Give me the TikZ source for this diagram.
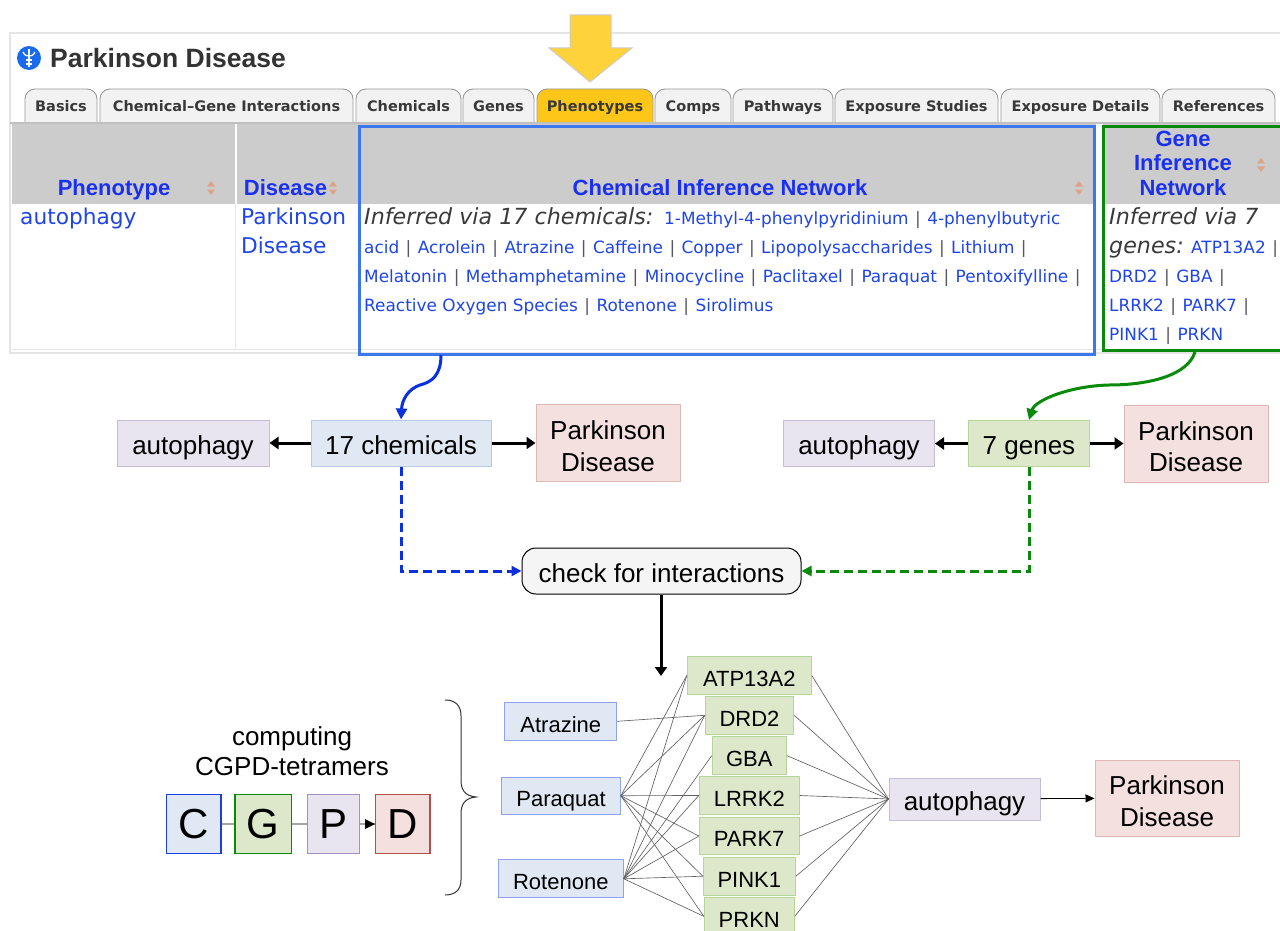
\documentclass[tikz,border=0pt]{standalone}
\usepackage{fontspec}
\setmainfont{Liberation Sans}
\newfontfamily\vd{DejaVu Sans}
\usetikzlibrary{arrows.meta}
\definecolor{lk}{HTML}{1F45E8}
\definecolor{hd}{HTML}{1A30F0}
\definecolor{sepc}{HTML}{555566}
\definecolor{itc}{HTML}{3A3A3A}
\definecolor{fb}{HTML}{DFE8F3}
\definecolor{fg}{HTML}{DDE8CB}
\definecolor{fp}{HTML}{E9E5F0}
\definecolor{fr}{HTML}{F4E0DF}
\definecolor{bb}{HTML}{B8CBE6}
\definecolor{bg}{HTML}{B5D69A}
\definecolor{bp}{HTML}{C5BDD8}
\definecolor{br}{HTML}{DDB8B5}
\definecolor{bbl}{HTML}{8FA2F0}
\definecolor{chemblue}{HTML}{3B78F0}
\definecolor{genegreen}{HTML}{0A8A0A}
\definecolor{curveblue}{HTML}{0A30E0}
\definecolor{sortc}{HTML}{DBA488}
\definecolor{pborder}{HTML}{A390C0}
\definecolor{dborder}{HTML}{B0504A}
\definecolor{cborder}{HTML}{1A3FE0}
\definecolor{yarrow}{HTML}{FDD23A}
\definecolor{ytab}{HTML}{FFC61A}
\newcommand{\sepb}{\kern1.1pt\textcolor{sepc}{|}\kern1.1pt}
\newcommand{\topstr}{\rule{0pt}{25pt}}
\newcommand{\sortmark}[2]{\fill[sortc] (#1-4,#2-1.5) -- (#1+4,#2-1.5) -- (#1,#2-7) -- cycle; \fill[sortc] (#1-4,#2+1.5) -- (#1+4,#2+1.5) -- (#1,#2+7) -- cycle;}
\tikzset{
  box/.style={draw,inner sep=0pt,align=center,line width=1pt,text=black},
  bigb/.style={box,font=\fontsize{26}{31.5}\selectfont,text depth=0pt},
  oneline/.style={text height=22.6pt,text depth=0pt},
  smallb/.style={box,font=\fontsize{22}{26}\selectfont,text height=21.8pt,text depth=0pt},
  lett/.style={box,font=\fontsize{42}{46}\selectfont,minimum height=58.6pt,line width=1.3pt},
  blu/.style={fill=fb,draw=bb},
  grn/.style={fill=fg,draw=bg},
  pur/.style={fill=fp,draw=bp},
  rdd/.style={fill=fr,draw=br},
  linkt/.style={inner sep=0pt,anchor=base west,text=lk,font=\vd\fontsize{16.9}{18}\selectfont},
  bigt/.style={inner sep=0pt,anchor=base west,text=lk,font=\vd\fontsize{21.7}{24}\selectfont},
  itt/.style={inner sep=0pt,anchor=base west,text=itc,font=\vd\itshape\fontsize{22.2}{24}\selectfont},
  hdt/.style={inner sep=0pt,anchor=base,text=hd,font=\bfseries\fontsize{22}{24}\selectfont},
  tabt/.style={inner sep=0pt,anchor=base,text=black!78,font=\vd\bfseries\fontsize{14.5}{16}\selectfont},
  tabs/.style={draw=black!40,line width=0.9pt,fill=black!5},
  thinl/.style={draw=black!62,line width=0.65pt},
  thickarr/.style={draw=black,line width=3pt,-{Triangle[length=9pt,width=12pt]}},
  dash1/.style={line width=3pt,dash pattern=on 9pt off 5pt},
}
\begin{document}
\begin{tikzpicture}[x=1pt,y=-1pt]
\useasboundingbox (0,0) rectangle (1280,931);
\clip (0,0) rectangle (1280,931);
\fill[white] (0,0) rectangle (1280,931);
% page frame
\draw[black!10,line width=1.2pt] (1290,33) -- (10,33) -- (10,353) -- (1290,353);
\draw[black!10,line width=1pt] (12,349) -- (1290,349);
\fill[black!20] (12,124) rectangle (1290,204);
\fill[white] (235,124) rectangle (237,204);
\fill[white] (1096,124) rectangle (1103,204);
\fill[black!8] (235,204) rectangle (236,349);
\draw[black!25,line width=1.4pt] (10,123) -- (1290,123);
% title
\fill[lk!80!cyan] (29,58) circle (12);
\draw[white,line width=1.6pt] (29,49) -- (29,67);
\draw[white,line width=1.3pt] (23,52) .. controls (25,56) and (27,56) .. (29,56) .. controls (31,56) and (33,56) .. (35,52);
\draw[white,line width=1.1pt] (26,60) -- (32,60) (26,64) -- (32,64);
\node[inner sep=0pt,anchor=base west,text=black!80,font=\bfseries\fontsize{26.5}{32}\selectfont] (title) at (50,68) {Parkinson Disease};
% yellow arrow
\draw[draw=black!20,fill=yarrow,line width=1pt] (570,15) -- (611,15) -- (611,48) -- (632,48) -- (590,82) -- (549,48) -- (570,48) -- cycle;
% tabs
\foreach \xa/\xb/\lbl in {25/97/Basics,100/353/Chemical–Gene Interactions,356/461/Chemicals,463/534/Genes,655/731/Comps,733/833/Pathways,835/998/Exposure Studies,1001/1160/Exposure Details,1162/1275/References}{
  \path[tabs] (\xa,122) [rounded corners=10pt] -- (\xa,89) -- (\xb,89) [sharp corners] -- (\xb,122);
  \node[tabt] at ({(\xa+\xb)/2},112) {\lbl};
}
\path[tabs,fill=ytab] (537,122) [rounded corners=10pt] -- (537,89) -- (653,89) [sharp corners] -- (653,122);
\node[tabt] (ptab) at (595,112) {Phenotypes};
% headers
\node[hdt] (h1) at (114,195) {Phenotype};
\node[hdt] (h2) at (285.5,195) {Disease};
\node[hdt] (h3) at (720,195) {Chemical Inference Network};
\node[hdt] (h4a) at (1183,147) {Gene};
\node[hdt] (h4b) at (1183,171) {Inference};
\node[hdt] (h4c) at (1183,195) {Network};
\sortmark{211}{188}
\sortmark{333}{188}
\sortmark{1079}{188}
\sortmark{1261}{165}
% frames
\node[draw=chemblue,line width=3pt,inner sep=0pt,minimum width=735pt,minimum height=227pt] (cframe) at (726.5,240.5) {};
\node[draw=genegreen,line width=3pt,inner sep=0pt,minimum width=190pt,minimum height=224pt] (gframe) at (1198.5,238.5) {};
% table text
\node[bigt] (t1) at (20,224) {autophagy};
\node[bigt] (t2) at (241,224) {Parkinson};
\node[bigt] (t3) at (241,253) {Disease};
\node[itt] (i1) at (364,224) {Inferred via 17 chemicals:};
\node[linkt] (l1) at (664,224) {1-Methyl-4-phenylpyridinium \sepb{} 4-phenylbutyric};
\node[linkt] (l2) at (364,253) {acid \sepb{} Acrolein \sepb{} Atrazine \sepb{} Caffeine \sepb{} Copper \sepb{} Lipopolysaccharides \sepb{} Lithium \sepb};
\node[linkt] (l3) at (364,282) {Melatonin \sepb{} Methamphetamine \sepb{} Minocycline \sepb{} Paclitaxel \sepb{} Paraquat \sepb{} Pentoxifylline \sepb};
\node[linkt] (l4) at (364,311) {Reactive Oxygen Species \sepb{} Rotenone \sepb{} Sirolimus};
\node[itt] (i2) at (1109,224) {Inferred via 7};
\node[itt] (i3) at (1109,253) {genes:};
\node[linkt] (g1) at (1191,253) {ATP13A2 \sepb};
\node[linkt] (g2) at (1109,282) {DRD2 \sepb{} GBA \sepb};
\node[linkt] (g3) at (1109,311) {LRRK2 \sepb{} PARK7 \sepb};
\node[linkt] (g4) at (1109,340) {PINK1 \sepb{} PRKN};
% middle row
\node[bigb,oneline,pur,minimum width=152pt,minimum height=46pt] (auto1) at (193,443) {autophagy};
\node[bigb,oneline,blu,minimum width=180pt,minimum height=46pt] (chem) at (401,443) {17 chemicals};
\node[bigb,rdd,minimum width=144pt,minimum height=77pt] (park1) at (608,443) {\topstr Parkinson\\Disease};
\node[bigb,oneline,pur,minimum width=151pt,minimum height=46pt] (auto2) at (859,443.5) {autophagy};
\node[bigb,oneline,grn,minimum width=121pt,minimum height=46pt] (genes) at (1029,443.5) {7 genes};
\node[bigb,rdd,minimum width=144pt,minimum height=77pt] (park2) at (1196,443.5) {\topstr Parkinson\\Disease};
\node[bigb,oneline,draw=black,fill=black!4,rounded corners=14pt,minimum width=279pt,minimum height=46pt] (check) at (661.5,571) {check for interactions};
\draw[thickarr] (chem) -- (auto1);
\draw[thickarr] (chem) -- (park1);
\draw[thickarr] (genes) -- (auto2);
\draw[thickarr] (genes) -- (park2);
\coordinate (cs) at (441,355);
\coordinate (gs) at (1195,352);
\coordinate (ce) at (661,676);
\draw[curveblue,line width=3pt,-{Triangle[length=11pt,width=11pt]}] (cs) .. controls (441,375) and (432,382) .. (420,385) .. controls (408,389) and (402,400) .. (chem.north);
\draw[genegreen,line width=3pt,-{Triangle[length=11pt,width=11pt]}] (gs) .. controls (1188,375) and (1150,385) .. (1109,385) .. controls (1070,386) and (1035,400) .. (genes.north);
\draw[curveblue,dash1,-{Triangle[length=10pt,width=10pt]}] (chem.south) |- (check.west);
\draw[genegreen,dash1,-{Triangle[length=10pt,width=10pt]}] (genes.south) |- (check.east);
\draw[thickarr] (check.south -| ce) -- (ce);
% network
\node[smallb,grn,minimum width=124pt,minimum height=37.6pt] (atp) at (749.3,675.5) {ATP13A2};
\node[smallb,grn,minimum width=88.4pt,minimum height=38pt] (drd) at (749.5,715.3) {DRD2};
\node[smallb,grn,minimum width=74pt,minimum height=37.3pt] (gba) at (749.3,755.6) {GBA};
\node[smallb,grn,minimum width=100pt,minimum height=37.6pt] (lrrk) at (749.3,795.5) {LRRK2};
\node[smallb,grn,minimum width=99.7pt,minimum height=37.4pt] (park) at (749.2,836) {PARK7};
\node[smallb,grn,minimum width=92pt,minimum height=37.7pt] (pink) at (749.3,876.2) {PINK1};
\node[smallb,grn,minimum width=90pt,minimum height=38pt] (prkn) at (749.3,916.3) {PRKN};
\node[smallb,blu,draw=bbl,minimum width=111.7pt,minimum height=38pt] (atr) at (560.8,721.3) {Atrazine};
\node[smallb,blu,draw=bbl,minimum width=118.6pt,minimum height=37.3pt] (par) at (561,795.7) {Paraquat};
\node[smallb,blu,draw=bbl,minimum width=125pt,minimum height=37.7pt] (rot) at (560.8,878.8) {Rotenone};
\node[bigb,oneline,pur,minimum width=151pt,minimum height=42pt] (auto3) at (964.5,799) {autophagy};
\node[bigb,rdd,minimum width=144pt,minimum height=76pt] (park3) at (1167,798) {\topstr Parkinson\\Disease};
\draw[thinl] (atr.east) -- (drd.west);
\foreach \g in {atp,drd,lrrk,park,pink,prkn} \draw[thinl] (par.east) -- (\g.west);
\foreach \g in {atp,drd,gba,lrrk,park,pink,prkn} \draw[thinl] (rot.east) -- (\g.west);
\foreach \g in {atp,drd,gba,lrrk,park,pink,prkn} \draw[thinl] (\g.east) -- (auto3.west);
\draw[black,line width=0.8pt,-{Triangle[length=9pt,width=8pt]}] (auto3) -- (park3);
% tetramer
\node[inner sep=0pt,align=center,font=\fontsize{26}{30}\selectfont] (lab) at (292,751) {computing\\CGPD-tetramers};
\node[lett,blu,draw=cborder,minimum width=54.7pt] (nc) at (193.6,824) {C};
\node[lett,grn,draw=genegreen,minimum width=56.7pt] (ng) at (263.3,824) {G};
\node[lett,pur,draw=pborder,minimum width=52pt] (np) at (333.3,824) {P};
\node[lett,rdd,draw=dborder,minimum width=54.7pt] (nd) at (402.6,824) {D};
\draw[black!35,line width=1.2pt] (nc) -- (ng);
\draw[black!35,line width=1.2pt] (ng) -- (np);
\draw[black!35,line width=1.2pt] (np) -- (nd);
\fill[black] (365,819) -- (375,824) -- (365,829) -- cycle;
% brace
\draw[black!80,line width=1pt] (445,700) .. controls (455,700) and (461,705) .. (461,716) -- (461,780) .. controls (461,790) and (465,796) .. (476,797) .. controls (465,798) and (461,804) .. (461,814) -- (461,880) .. controls (461,890) and (455,895) .. (445,895);
\end{tikzpicture}
\end{document}
